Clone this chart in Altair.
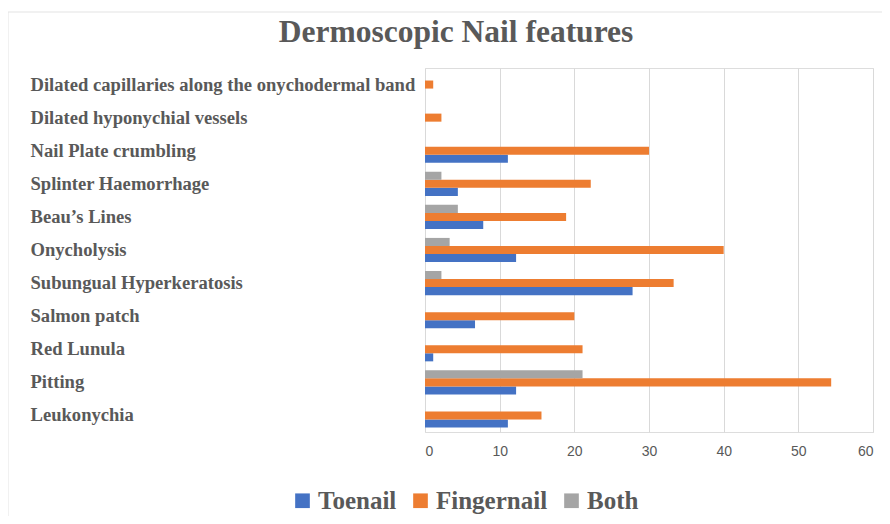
import altair as alt
import pandas as pd

categories = [
    "Dilated capillaries along the onychodermal band",
    "Dilated hyponychial vessels",
    "Nail Plate crumbling",
    "Splinter Haemorrhage",
    "Beau’s Lines",
    "Onycholysis",
    "Subungual Hyperkeratosis",
    "Salmon patch",
    "Red Lunula",
    "Pitting",
    "Leukonychia",
]
toenail = [0, 0, 11.1, 4.4, 7.8, 12.2, 27.8, 6.7, 1.1, 12.2, 11.1]
fingernail = [1.1, 2.2, 30.0, 22.2, 18.9, 40.0, 33.3, 20.0, 21.1, 54.4, 15.6]
both = [0, 0, 0, 2.2, 4.4, 3.3, 2.2, 0, 0, 21.1, 0]
series = ["Toenail", "Fingernail", "Both"]
colors = ["#4472C4", "#ED7D31", "#A5A5A5"]
x_ticks = [0, 10, 20, 30, 40, 50, 60]

rows = []
for i, c in enumerate(categories):
    for s, vals in zip(series, [toenail, fingernail, both]):
        rows.append({"Feature": c, "Series": s, "Value": vals[i]})
df = pd.DataFrame(rows)

GRAY = "#595959"

bars = alt.Chart(df).mark_bar().encode(
    y=alt.Y(
        "Feature:N",
        sort=categories,
        scale=alt.Scale(paddingInner=0.27, paddingOuter=0.135),
        axis=alt.Axis(
            title=None, labelAlign="left", labelPadding=395, labelLimit=420,
            labelFont="Liberation Serif", labelFontWeight="bold", labelFontSize=18.6,
            labelColor=GRAY, ticks=False, domain=False, grid=False,
        ),
    ),
    yOffset=alt.YOffset("Series:N", scale=alt.Scale(domain=["Both", "Fingernail", "Toenail"], paddingInner=0, paddingOuter=0)),
    x=alt.X(
        "Value:Q",
        scale=alt.Scale(domain=[0, 60], nice=False),
        axis=alt.Axis(
            title=None, values=x_ticks, grid=True, gridColor="#d9d9d9", gridWidth=1,
            domain=False, ticks=False, labelPadding=12, labelFont="Liberation Sans",
            labelFontSize=14, labelColor=GRAY,
        ),
    ),
    color=alt.Color(
        "Series:N",
        scale=alt.Scale(domain=series, range=colors),
        legend=alt.Legend(
            title=None, orient="none", direction="horizontal", legendX=-135, legendY=420,
            symbolType="square", symbolSize=215, symbolStrokeWidth=0, symbolOpacity=1,
            labelFont="Liberation Serif", labelFontWeight="bold", labelFontSize=25,
            labelColor=GRAY, labelOffset=3, columnPadding=11,
        ),
    ),
)

border_df = pd.DataFrame({"k": [0]})
left_line = alt.Chart(border_df).mark_rule(color="#e3e3e3", strokeWidth=1).encode(
    x=alt.value(-417), y=alt.value(-56), y2=alt.value(460)
)
top_line = alt.Chart(border_df).mark_rule(color="#e3e3e3", strokeWidth=1).encode(
    x=alt.value(-417), x2=alt.value(470), y=alt.value(-56)
)

chart = alt.layer(left_line, top_line, bars).properties(
    width=448,
    height=364,
    autosize=alt.AutoSizeParams(type="none"),
    padding={"left": 417, "top": 60, "right": 9, "bottom": 84},
    title=alt.TitleParams(
        "Dermoscopic Nail features", anchor="middle", frame="group", dx=-193,
        offset=-62, baseline="alphabetic", font="Liberation Serif", fontWeight="bold",
        fontSize=31.5, color=GRAY,
    ),
).configure_view(stroke=None).configure(background="white")

chart.save("out.html", embed_options={"renderer": "svg", "actions": False})
